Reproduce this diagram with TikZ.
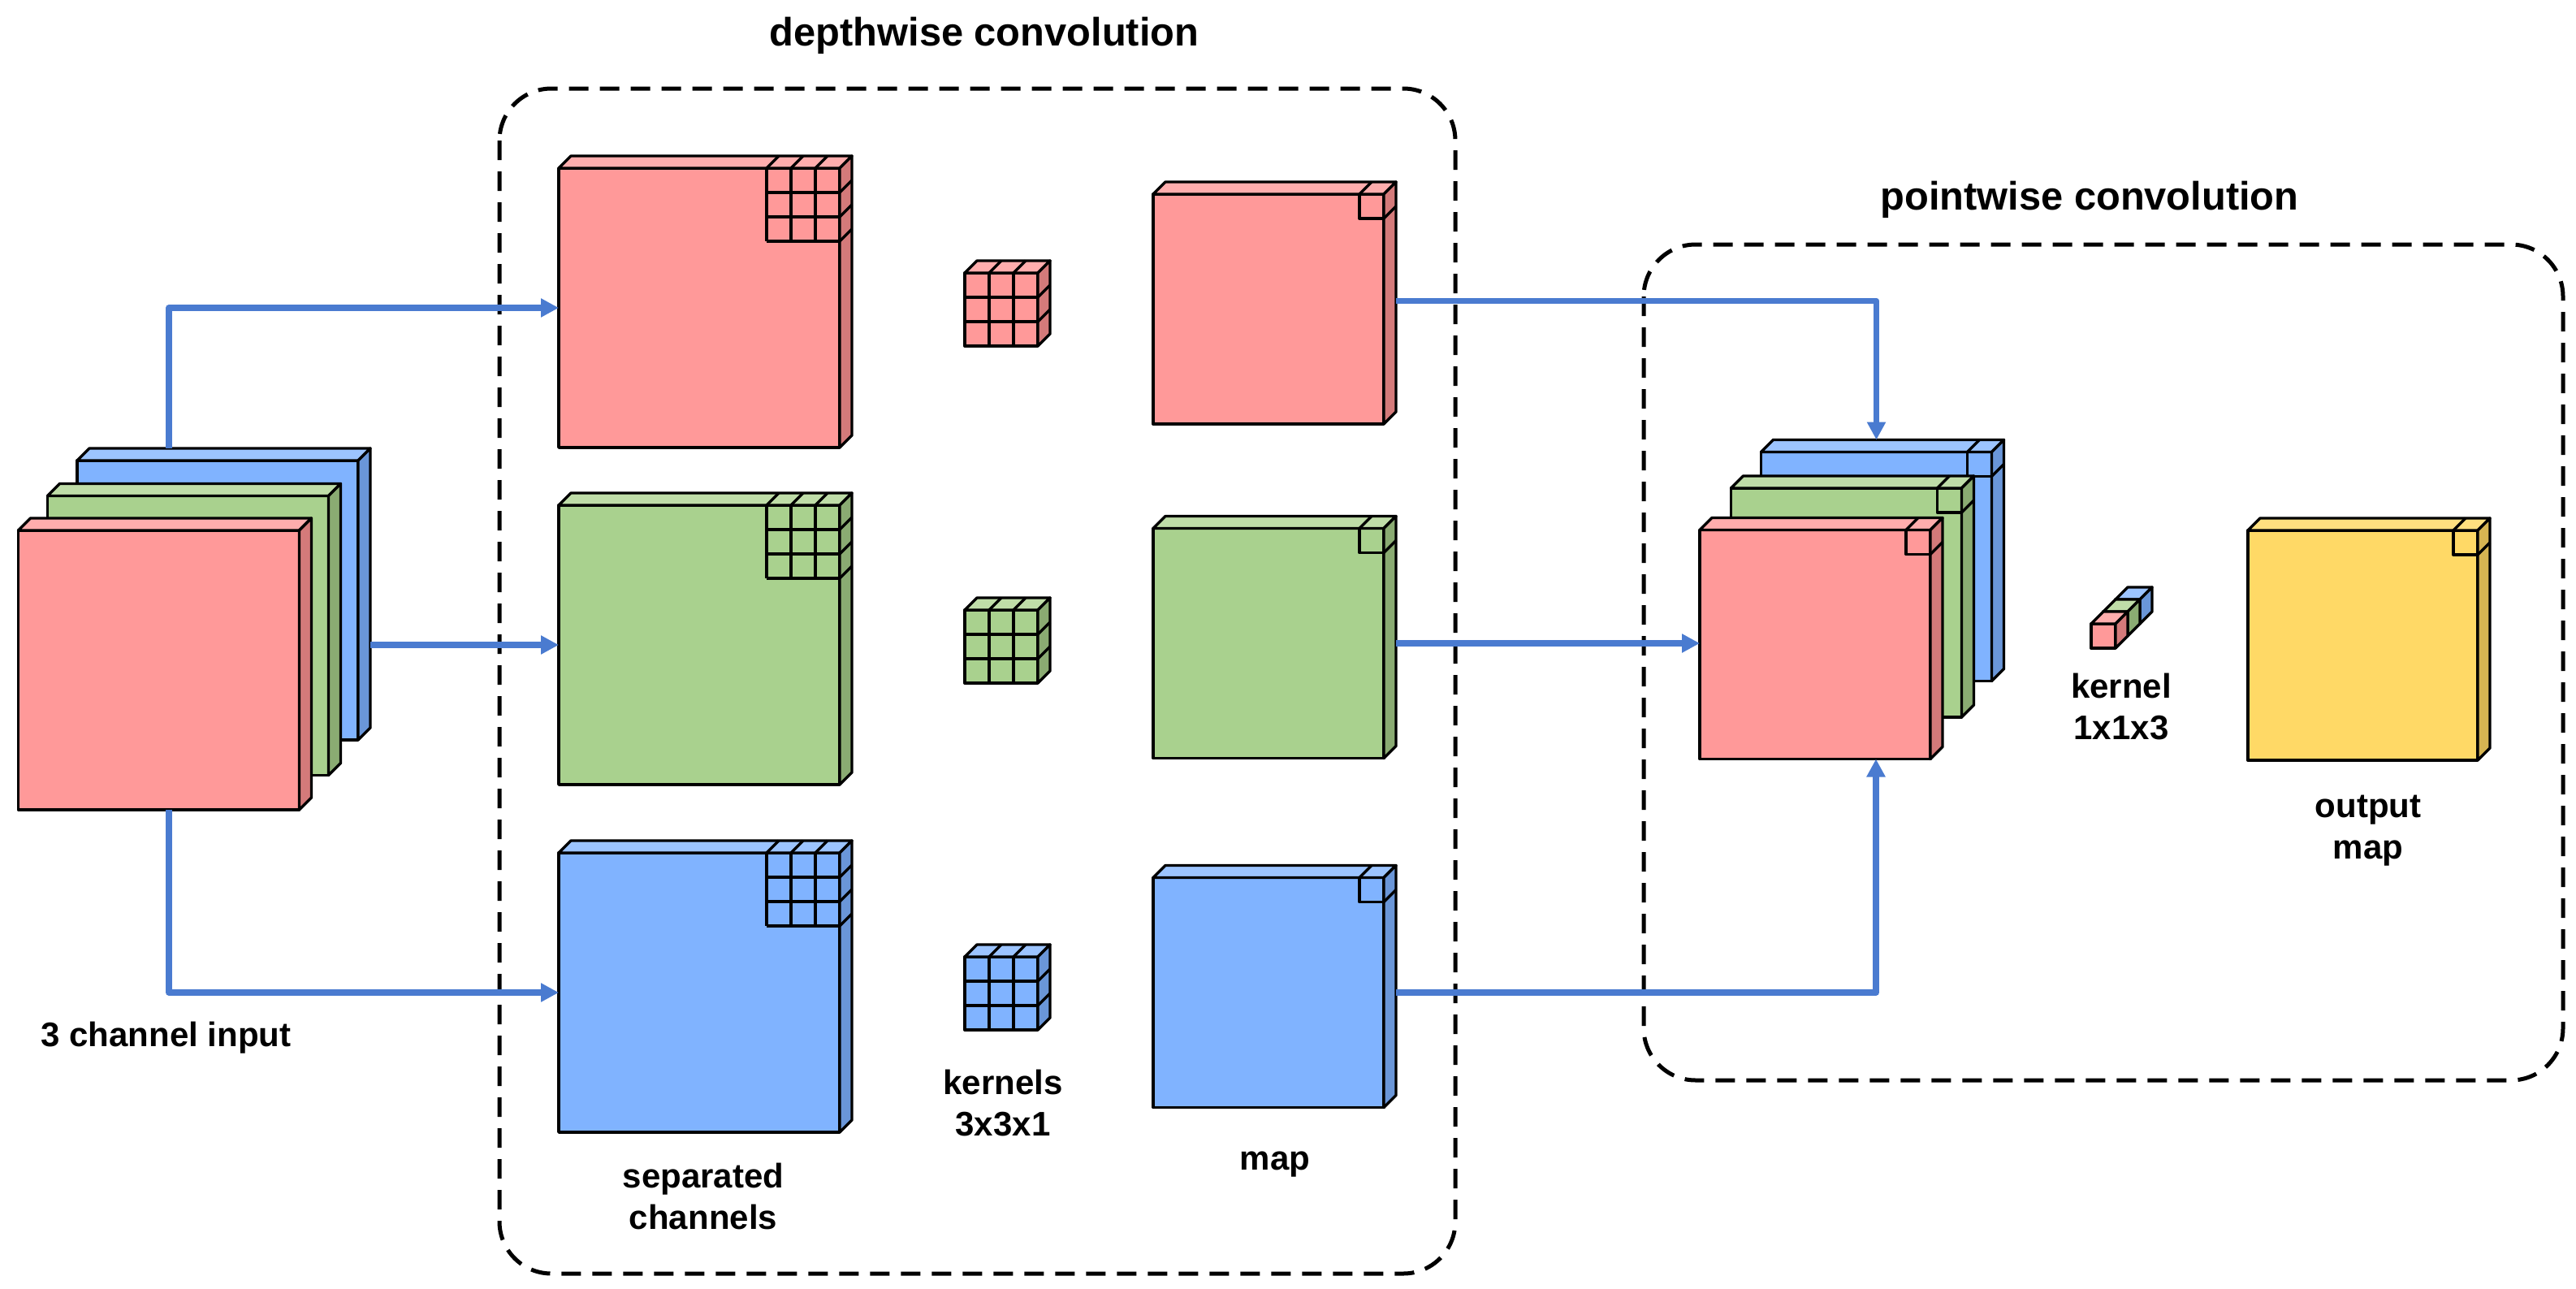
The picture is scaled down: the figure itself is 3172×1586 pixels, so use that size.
\documentclass[tikz,border=0pt]{standalone}
\usepackage{fontspec}
\setmainfont{Liberation Sans}
\usetikzlibrary{calc,arrows.meta}

\definecolor{pkF}{HTML}{FF9999}
\definecolor{pkT}{HTML}{FFADAD}
\definecolor{pkS}{HTML}{D47A7A}
\definecolor{grF}{HTML}{A9D18E}
\definecolor{grT}{HTML}{BFDDA8}
\definecolor{grS}{HTML}{8AAB72}
\definecolor{blF}{HTML}{80B3FF}
\definecolor{blT}{HTML}{9CC4FF}
\definecolor{blS}{HTML}{6A96D8}
\definecolor{ylF}{HTML}{FFD966}
\definecolor{ylT}{HTML}{FFE07F}
\definecolor{ylS}{HTML}{D6B452}
\definecolor{flowblue}{HTML}{4A7BD0}

% front face is a node, top and side are hung on its corners
\newcommand{\slab}[5]{%
  \node[face, fill=#5F, minimum width=#3, minimum height=#4] (#1) at #2 {};
  \filldraw[fill=#5T] (#1.north west) -- ++(15,-15) -- ($(#1.north east)+(15,-15)$) -- (#1.north east) -- cycle;
  \filldraw[fill=#5S] (#1.north east) -- ++(15,-15) -- ($(#1.south east)+(15,-15)$) -- (#1.south east) -- cycle;
}
% 3x3 window in the top right corner
\newcommand{\slabgrid}[1]{%
  \foreach \i in {30,60,90} {
    \draw ($(#1.north east)+(-\i,0)$) -- ++(0,90);
    \draw ($(#1.north east)+(-90,\i)$) -- ++(90,0);
    \draw ($(#1.north east)+(-\i,0)$) -- ++(15,-15);
    \draw ($(#1.north east)+(0,\i)$) -- ++(15,-15);
  }}
% 1x1 cell in the top right corner
\newcommand{\slabcell}[1]{%
  \draw ($(#1.north east)+(-30,0)$) -- ++(0,30) -- ++(30,0);
  \draw ($(#1.north east)+(-30,0)$) -- ++(15,-15);
  \draw ($(#1.north east)+(0,30)$) -- ++(15,-15);
}
% 3x3x1 kernel
\newcommand{\kernelbox}[3]{%
  \slab{#1}{#2}{22.5pt}{22.5pt}{#3}
  \foreach \i in {30,60} {
    \draw ($(#1.north west)+(\i,0)$) -- ++(0,90);
    \draw ($(#1.north west)+(0,\i)$) -- ++(90,0);
    \draw ($(#1.north west)+(\i,0)$) -- ++(15,-15);
    \draw ($(#1.north east)+(0,\i)$) -- ++(15,-15);
  }}

\begin{document}
\begin{tikzpicture}[x=0.25pt,y=-0.25pt,line width=0.85pt,line join=round,
  face/.style={draw,inner sep=0pt,outer sep=0pt},
  stage/.style={draw,line width=1.25pt,dash pattern=on 6pt off 3.5pt,rounded corners=16pt},
  flow/.style={draw=flowblue,line width=1.9pt,-{Triangle[length=5.5pt,width=5.5pt]}},
  txt/.style={font=\bfseries\fontsize{10.5}{12.75}\selectfont,align=center,inner sep=0pt},
  heading/.style={font=\bfseries\fontsize{12.2}{14.6}\selectfont,inner sep=0pt}]
	\useasboundingbox (0,0) rectangle (3172,1586);

	\draw[stage] (615,109) rectangle (1792,1568);
	\draw[stage] (2024,301) rectangle (3156,1330);
	\node[heading] (dwTitle) at (1212,44) {depthwise convolution};
	\node[heading] (pwTitle) at (2573,246) {pointwise convolution};

	% input
	\slab{inB}{(268,739)}{86.5pt}{86pt}{bl}
	\slab{inG}{(231.5,782.5)}{86.5pt}{86pt}{gr}
	\slab{inR}{(195.5,825)}{86.5pt}{86pt}{pk}
	\node[txt,anchor=base] (inLbl) at (204.5,1288) {3 channel input};

	% depthwise
	\slab{sepR}{(861,379)}{86.5pt}{86pt}{pk} \slabgrid{sepR}
	\slab{sepG}{(861,794)}{86.5pt}{86pt}{gr} \slabgrid{sepG}
	\slab{sepB}{(861,1222)}{86.5pt}{86pt}{bl} \slabgrid{sepB}
	\node[txt,anchor=north] (sepLbl) at (866,1430) {separated\\channels};

	\kernelbox{kR}{(1233,381)}{pk}
	\kernelbox{kG}{(1233,796)}{gr}
	\kernelbox{kB}{(1233,1223)}{bl}
	\node[txt,anchor=north] (kLbl) at (1235,1315) {kernels\\3x3x1};

	\slab{mapR}{(1562,380.5)}{71pt}{70.75pt}{pk} \slabcell{mapR}
	\slab{mapG}{(1562,792)}{71pt}{70.75pt}{gr} \slabcell{mapG}
	\slab{mapB}{(1562,1222)}{71pt}{70.75pt}{bl} \slabcell{mapB}
	\node[txt,anchor=base] (mapLbl) at (1570,1440) {map};

	% pointwise
	\slab{pwB}{(2310.5,697.5)}{71pt}{70.5pt}{bl} \slabcell{pwB}
	\slab{pwG}{(2273.5,742)}{71pt}{70.5pt}{gr} \slabcell{pwG}
	\slab{pwR}{(2235,793.5)}{71pt}{70.5pt}{pk} \slabcell{pwR}

	\slab{kpB}{(2620,753)}{7.5pt}{7.5pt}{bl}
	\slab{kpG}{(2605,768)}{7.5pt}{7.5pt}{gr}
	\slab{kpR}{(2590,783)}{7.5pt}{7.5pt}{pk}
	\node[txt,anchor=north] (kpLbl) at (2612,827) {kernel\\1x1x3};

	\slab{outMap}{(2909.5,794.5)}{70.75pt}{70.75pt}{yl} \slabcell{outMap}
	\node[txt,anchor=north] (outLbl) at (2916,977) {output\\map};

	% connectors
	\draw[flow] ([xshift=-15pt,yshift=3.75pt]inB.north) |- (sepR.west);
	\draw[flow] ($(inB.east |- sepG.west)+(15,0)$) -- (sepG.west);
	\draw[flow] ([xshift=3.125pt]inR.south) |- (sepB.west);
	\draw[flow] ([xshift=3.75pt,yshift=2.5pt]mapR.east) -| ([yshift=3.75pt]pwB.north);
	\draw[flow] ($(mapG.east)+(15,0)$) -- (mapG.east -| pwR.west);
	\draw[flow] ($(mapB.east)+(15,0)$) -| ([xshift=18.75pt]pwR.south);
\end{tikzpicture}
\end{document}
